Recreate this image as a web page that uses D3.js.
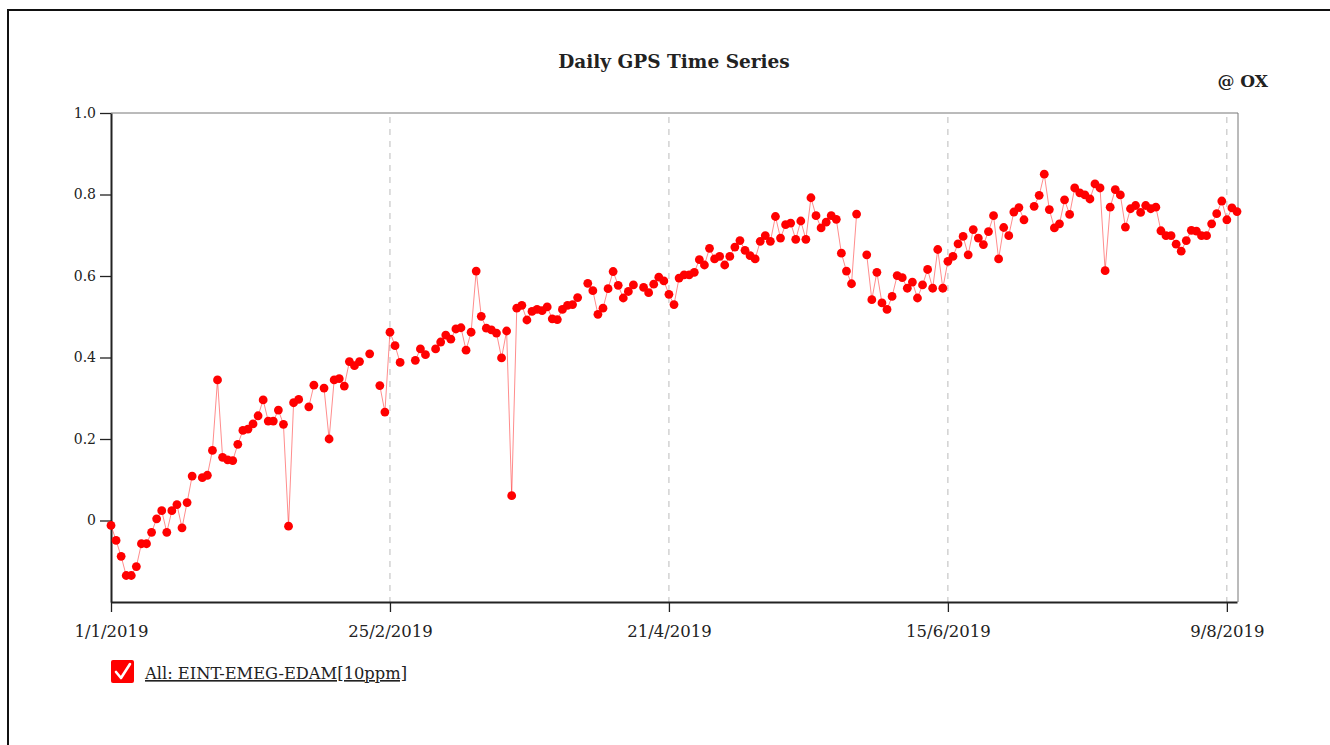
<!DOCTYPE html>
<html>
<head>
<meta charset="utf-8">
<script src="https://cdn.jsdelivr.net/npm/d3@7"></script>
<style>
  html, body { margin: 0; padding: 0; background: #fff; }
  svg { display: block; }
  text { font-family: "DejaVu Serif", Georgia, serif; fill: #222; }
</style>
</head>
<body>
<svg id="chart" width="1330" height="745"></svg>
<script>
// Daily series, one value per day starting on 1 Jan 2019 (null = no reading that day)
const startDate = "2019-01-01";
const dailyValues = [
  -0.012, -0.049, -0.088, -0.135, -0.135, -0.113, -0.057, -0.057, -0.029, 0.004,
  0.024, -0.029, 0.024, 0.039, -0.018, 0.044, 0.109, null, 0.105, 0.111,
  0.172, 0.345, 0.155, 0.149, 0.147, 0.187, 0.221, 0.224, 0.237, 0.257,
  0.296, 0.244, 0.244, 0.271, 0.236, -0.014, 0.289, 0.297, null, 0.279,
  0.332, null, 0.325, 0.200, 0.345, 0.348, 0.330, 0.390, 0.380, 0.390,
  null, 0.409, null, 0.331, 0.266, 0.462, 0.429, 0.388, null, null,
  0.393, 0.421, 0.407, null, 0.421, 0.438, 0.455, 0.445, 0.470, 0.473,
  0.418, 0.462, 0.612, 0.501, 0.472, 0.468, 0.460, 0.399, 0.465, 0.061,
  0.521, 0.528, 0.492, 0.513, 0.518, 0.515, 0.524, 0.495, 0.493, 0.518,
  0.528, 0.530, 0.547, null, 0.582, 0.564, 0.506, 0.521, 0.569, 0.611,
  0.577, 0.546, 0.562, 0.578, null, 0.572, 0.559, 0.580, 0.597, 0.588,
  0.555, 0.530, 0.595, 0.603, 0.603, 0.609, 0.640, 0.627, 0.668, 0.642,
  0.648, 0.627, 0.648, 0.671, 0.687, 0.663, 0.650, 0.642, 0.685, 0.699,
  0.685, 0.746, 0.693, 0.726, 0.730, 0.690, 0.735, 0.690, 0.792, 0.748,
  0.718, 0.732, 0.748, 0.739, 0.656, 0.612, 0.581, 0.752, null, 0.652,
  0.542, 0.609, 0.534, 0.518, 0.550, 0.601, 0.596, 0.570, 0.585, 0.546,
  0.578, 0.616, 0.570, 0.665, 0.570, 0.636, 0.648, 0.679, 0.697, 0.652,
  0.714, 0.693, 0.677, 0.709, 0.748, 0.642, 0.719, 0.699, 0.757, 0.768,
  0.738, null, 0.771, 0.798, 0.850, 0.763, 0.718, 0.728, 0.787, 0.751,
  0.816, 0.804, 0.799, 0.789, 0.826, 0.816, 0.613, 0.769, 0.812, 0.799,
  0.720, 0.765, 0.773, 0.756, 0.773, 0.765, 0.769, 0.711, 0.699, 0.699,
  0.678, 0.661, 0.687, 0.712, 0.710, 0.699, 0.699, 0.728, 0.753, 0.784,
  0.738, 0.767, 0.758
];

// Axis ticks
const xTickDates = ["2019-01-01", "2019-02-25", "2019-04-21", "2019-06-15", "2019-08-09"];
const yTickValues = [0, 0.2, 0.4, 0.6, 0.8, 1.0];
const yTickLabels = ["0", "0.2", "0.4", "0.6", "0.8", "1.0"];

const chartTitle = "Daily GPS Time Series";
const cornerLabel = "@ OX";
const seriesName = "All: EINT-EMEG-EDAM[10ppm]";

const parseDay = d3.utcParse("%Y-%m-%d");
const start = parseDay(startDate);
const points = dailyValues.map((v, i) => ({ date: d3.utcDay.offset(start, i), v }));

const svg = d3.select("#chart");

// Page frame
svg.append("path")
  .attr("d", "M8,745 L8,10 L1330,10")
  .attr("fill", "none").attr("stroke", "#111").attr("stroke-width", 2);

const plot = { left: 111, right: 1237, top: 113, bottom: 602 };

const x = d3.scaleUtc()
  .domain([start, points[points.length - 1].date])
  .range([plot.left, plot.right]);

const y = d3.scaleLinear()
  .domain([-0.2, 1.0])
  .range([plot.bottom, plot.top]);

// Title and corner label
svg.append("text")
  .attr("x", (plot.left + plot.right) / 2).attr("y", 68)
  .attr("text-anchor", "middle")
  .attr("font-size", 18.5).attr("font-weight", "bold")
  .text(chartTitle);

svg.append("text")
  .attr("x", 1268).attr("y", 87)
  .attr("text-anchor", "end")
  .attr("font-size", 17).attr("font-weight", "bold")
  .text(cornerLabel);

// Top and right frame of the plot
svg.append("path")
  .attr("d", `M${plot.left},${plot.top} H${plot.right + 1} V${plot.bottom}`)
  .attr("fill", "none").attr("stroke", "#777").attr("stroke-width", 1);

// Vertical dashed grid at the date ticks
const xTicks = xTickDates.map(parseDay);
svg.append("g")
  .selectAll("line")
  .data(xTicks.slice(1))
  .join("line")
  .attr("x1", d => x(d)).attr("x2", d => x(d))
  .attr("y1", plot.top + 4).attr("y2", plot.bottom)
  .attr("stroke", "#bbb").attr("stroke-width", 1)
  .attr("stroke-dasharray", "6,6");

// Y axis
const yAxis = svg.append("g")
  .attr("transform", `translate(${plot.left},0)`)
  .call(d3.axisLeft(y)
    .tickValues(yTickValues)
    .tickFormat((d, i) => yTickLabels[i])
    .tickSize(11).tickPadding(4).tickSizeOuter(0));
yAxis.select(".domain").attr("stroke", "#222").attr("stroke-width", 2);
yAxis.selectAll(".tick line").attr("stroke", "#222").attr("stroke-width", 1.3);
yAxis.selectAll(".tick text").attr("font-size", 14).attr("font-family", "DejaVu Serif").attr("fill", "#222");

// X axis
const xAxis = svg.append("g")
  .attr("transform", `translate(0,${plot.bottom})`)
  .call(d3.axisBottom(x)
    .tickValues(xTicks)
    .tickFormat(d3.utcFormat("%-d/%-m/%Y"))
    .tickSize(10).tickPadding(13).tickSizeOuter(0));
xAxis.select(".domain").attr("stroke", "#222").attr("stroke-width", 2);
xAxis.selectAll(".tick line").attr("stroke", "#222").attr("stroke-width", 1.3);
xAxis.selectAll(".tick text").attr("font-size", 16.5).attr("font-family", "DejaVu Serif").attr("fill", "#222");

// Series line (breaks where a day has no reading)
const line = d3.line()
  .defined(d => d.v !== null)
  .x(d => x(d.date))
  .y(d => y(d.v));

svg.append("path")
  .datum(points)
  .attr("d", line)
  .attr("fill", "none")
  .attr("stroke", "#f00")
  .attr("stroke-opacity", 0.45)
  .attr("stroke-width", 1);

svg.append("g")
  .selectAll("circle")
  .data(points.filter(d => d.v !== null))
  .join("circle")
  .attr("cx", d => x(d.date))
  .attr("cy", d => y(d.v))
  .attr("r", 4.4)
  .attr("fill", "#f00");

// Legend with checked box
const legend = svg.append("g").attr("transform", "translate(111,660)");
legend.append("rect")
  .attr("width", 23).attr("height", 23).attr("rx", 2)
  .attr("fill", "#f00");
legend.append("path")
  .attr("d", "M5,12 L10,18 L19,4")
  .attr("fill", "none").attr("stroke", "#fff")
  .attr("stroke-width", 2.6).attr("stroke-linecap", "round").attr("stroke-linejoin", "round");
legend.append("text")
  .attr("x", 34).attr("y", 19)
  .attr("font-size", 16.3)
  .attr("text-decoration", "underline")
  .text(seriesName);
</script>
</body>
</html>
